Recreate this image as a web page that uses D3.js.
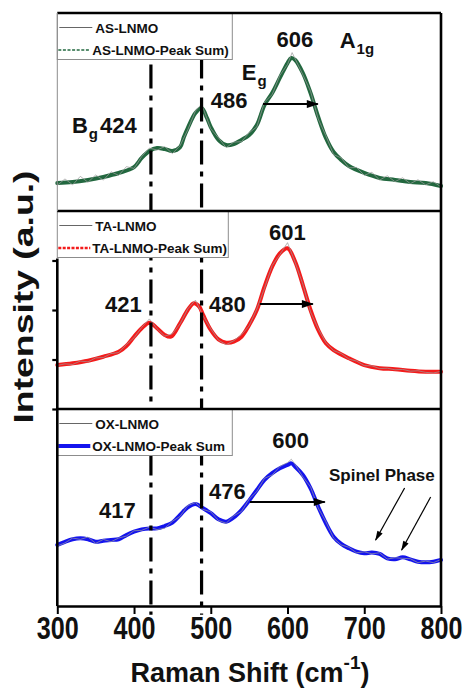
<!DOCTYPE html>
<html>
<head>
<meta charset="utf-8">
<script src="https://cdn.jsdelivr.net/npm/d3@7"></script>
<style>
  html, body { margin: 0; padding: 0; background: #fff; }
  svg text { font-family: "Liberation Sans", Arial, sans-serif; font-weight: bold; fill: #111; }
</style>
</head>
<body>
<div id="chart"></div>
<script>
const X_TICKS = [300, 400, 500, 600, 700, 800];

// AS-LNMO (top panel)
const fitX_AS = [300,320,340,360,380,400,410,420,430,440,450,460,465,470,480,488,495,500,510,520,530,540,550,560,570,580,590,600,605,610,620,630,640,650,660,670,680,700,720,740,760,780,800];
const fit_AS  = [14.1,14.6,15.7,17.2,19.2,22.2,26.8,30.3,31.8,31.3,30.3,32.3,37.4,41.9,49.5,52.0,47.0,42.4,35.9,33.3,33.8,35.9,38.4,43.4,53.5,59.6,67.2,74.7,77.3,76.3,69.7,59.6,47.5,36.9,29.8,25.8,22.7,19.2,16.7,15.7,14.6,14.1,12.6];
const rawX_AS = [300,310,320,330,340,350,360,370,380,390,400,410,420,430,440,450,460,470,480,488,500,510,520,530,540,550,560,570,580,590,600,606,620,630,640,650,660,670,680,690,700,710,720,730,740,750,760,770,780,790,800];
const raw_AS  = [13.0,16.2,13.2,17.5,14.5,18.2,15.6,19.8,18.0,22.4,21.5,27.5,31.8,30.8,32.5,29.0,33.0,41.0,50.5,54.0,41.5,37.0,32.0,34.8,35.0,39.5,42.5,55.0,58.8,68.5,74.0,80.0,68.8,60.5,46.5,38.0,28.5,26.8,21.8,22.0,18.0,19.6,15.6,17.8,14.8,16.8,13.8,15.8,13.2,14.8,12.2];

// TA-LNMO (middle panel)
const fitX_TA = [300,320,340,360,380,390,400,410,420,430,440,448,460,470,478,485,490,500,510,520,530,540,550,560,570,580,590,600,610,620,630,640,650,660,680,700,720,740,760,780,800];
const fit_TA  = [22.2,23.1,24.4,26.4,28.9,31.8,36.5,40.8,43.6,40.8,37.4,36.5,43.3,50.0,53.4,51.7,47.5,39.9,35.2,33.5,34.0,36.5,42.4,50.0,61.8,71.9,78.6,81.2,74.4,62.6,50.0,39.9,33.2,29.8,25.6,22.2,20.6,20.1,19.3,18.8,18.8];
const rawX_TA = [300,310,320,330,340,350,360,370,380,390,400,410,420,430,440,450,460,470,480,490,500,510,520,530,540,550,560,570,580,590,600,610,620,630,640,650,660,670,680,690,700,710,720,730,740,750,760,770,780,790,800];
const raw_TA  = [22.0,22.8,22.5,24.2,23.8,25.8,26.0,28.0,28.5,32.5,36.0,41.2,45.5,40.5,36.8,38.0,43.0,50.5,55.0,47.0,40.5,34.8,32.5,34.5,37.5,42.0,50.5,61.0,72.5,78.0,84.0,74.0,63.0,49.0,40.5,33.5,29.5,28.0,25.2,24.2,21.9,21.8,20.4,20.6,19.8,20.0,19.1,19.3,18.5,18.2,19.0];

// OX-LNMO (bottom panel)
const fitX_OX = [300,310,320,330,340,350,360,370,380,390,400,410,420,430,440,450,460,470,480,490,500,510,520,530,540,550,560,570,580,590,600,605,610,620,630,640,650,660,670,680,690,700,710,720,730,740,750,760,770,780,790,800];
const fit_OX  = [31.0,32.6,33.9,34.4,33.9,32.6,33.1,33.5,33.9,36.0,37.7,38.9,39.4,39.4,40.6,42.3,46.2,50.1,51.8,49.6,47.1,44.0,42.8,45.0,48.7,53.5,58.9,64.0,67.4,69.9,71.6,72.4,70.7,66.5,59.7,50.4,42.0,35.2,31.5,29.3,27.6,26.8,27.1,26.4,24.2,23.7,24.7,23.7,22.5,22.2,22.5,23.4];
const raw_OX  = [30.5,32.0,34.5,33.8,35.0,31.8,33.8,32.6,34.5,35.5,38.2,38.4,40.0,38.8,39.5,43.0,45.5,51.0,52.5,49.0,47.8,43.4,42.0,45.8,48.0,54.2,58.2,64.8,66.5,70.8,72.8,74.5,71.8,65.5,60.5,49.8,42.8,34.5,31.0,29.8,27.0,27.5,26.5,27.0,23.8,24.5,24.2,24.0,22.0,22.8,22.0,23.6];

// peak labels: [text, x (cm-1), y (intensity), anchor]
const labels_AS = [['606', 609.5, 82.8, 'middle'], ['486', 500, 52.0, 'start'], ['424', 355.6, 39.4, 'start']];
const labels_TA = [['601', 599.7, 85.4, 'middle'], ['421', 386, 49.0, 'middle'], ['480', 521.6, 49.0, 'middle']];
const labels_OX = [['600', 604, 80.2, 'middle'], ['476', 521.6, 54.3, 'middle'], ['417', 378.4, 44.7, 'middle'], ['Spinel Phase', 654, 63.5, 'start']];
// mode symbols: [main, sub, x, y]
const modes_AS = [['A', '1g', 668, 82.3], ['E', 'g', 540.5, 66.2], ['B', 'g', 319, 39.4]];
// arrows: [x0, y0, x1, y1]
const arrows_AS = [[568, 54.0, 639.5, 54.0]];
const arrows_TA = [[564, 53.0, 633, 53.0]];
const arrows_OX = [[551, 52.8, 648.6, 52.8]];
const spinel_OX = [[752.6, 59.9, 714.8, 33.5], [786.5, 55.3, 748.7, 28.4]];
const markLines = [422, 488];

const W = 465, H = 691;
const svg = d3.select('#chart').append('svg').attr('width', W).attr('height', H);
svg.append('rect').attr('width', W).attr('height', H).attr('fill', '#fff');

const defs = svg.append('defs');
defs.append('marker').attr('id', 'headBig')
    .attr('markerUnits', 'userSpaceOnUse').attr('viewBox', '0 0 12 8')
    .attr('markerWidth', 13).attr('markerHeight', 8).attr('refX', 11).attr('refY', 4).attr('orient', 'auto')
  .append('path').attr('d', 'M0,0 L12,4 L0,8 Z').attr('fill', '#000');
defs.append('marker').attr('id', 'headThin')
    .attr('markerUnits', 'userSpaceOnUse').attr('viewBox', '0 0 10 6')
    .attr('markerWidth', 11).attr('markerHeight', 6).attr('refX', 9).attr('refY', 3).attr('orient', 'auto')
  .append('path').attr('d', 'M0,0 L10,3 L0,6 Z').attr('fill', '#000');

const x = d3.scaleLinear().domain([300, 800]).range([57.3, 441]);

const panels = [
  {top: 13, bottom: 211, color: '#22683f', fitX: fitX_AS, fit: fit_AS, rawX: rawX_AS, raw: raw_AS,
   labels: labels_AS, modes: modes_AS, arrows: arrows_AS, thin: [],
   legend: ['AS-LNMO', 'AS-LNMO-Peak Sum)'], legW: 175, legDash: '3,1.6', legStroke: 1.6},
  {top: 211, bottom: 409, color: '#f31b1b', fitX: fitX_TA, fit: fit_TA, rawX: rawX_TA, raw: raw_TA,
   labels: labels_TA, modes: [], arrows: arrows_TA, thin: [],
   legend: ['TA-LNMO', 'TA-LNMO-Peak Sum)'], legW: 171, legDash: '3,1.4', legStroke: 2.4},
  {top: 409, bottom: 606, color: '#1414ee', fitX: fitX_OX, fit: fit_OX, rawX: fitX_OX, raw: raw_OX,
   labels: labels_OX, modes: [], arrows: arrows_OX, thin: spinel_OX,
   legend: ['OX-LNMO', 'OX-LNMO-Peak Sum'], legW: 175, legDash: null, legStroke: 4}
];
panels.forEach(p => { p.y = d3.scaleLinear().domain([0, 100]).range([p.bottom, p.top]); });

const gPlot = svg.append('g');

panels.forEach(p => {
  const g = gPlot.append('g');

  g.append('path')
    .attr('d', d3.line().x(d => x(d[0])).y(d => p.y(d[1])).curve(d3.curveCatmullRom)(d3.zip(p.fitX, p.fit)))
    .attr('fill', 'none').attr('stroke', p.color).attr('stroke-width', 4)
    .attr('stroke-linejoin', 'round').attr('stroke-linecap', 'round');

  // measured spectrum drawn thin over the fitted sum
  g.append('path')
    .attr('d', d3.line().x(d => x(d[0])).y(d => p.y(d[1]))(d3.zip(p.rawX, p.raw)))
    .attr('fill', 'none').attr('stroke', '#9a9a9a').attr('stroke-width', 0.8)
    .attr('stroke-opacity', 0.9);
});

// dash-dot marker lines across all panels
const lineTops = [74, 79];
markLines.forEach((m, i) => {
  svg.append('line')
    .attr('x1', x(m)).attr('x2', x(m))
    .attr('y1', panels[0].y(lineTops[i])).attr('y2', panels[2].y(-4.5))
    .attr('stroke', '#000').attr('stroke-width', 3.2)
    .attr('stroke-dasharray', '24,7,5,7');
});

// legends, labels, arrows
panels.forEach(p => {
  const g = svg.append('g');
  const leg = g.append('g').attr('transform', `translate(${x(300)},${p.top})`);
  leg.append('rect').attr('x', 0).attr('y', 0.5).attr('width', p.legW).attr('height', 46)
    .attr('fill', '#fff').attr('stroke', '#8c8c8c').attr('stroke-width', 1);
  leg.append('line').attr('x1', 2).attr('x2', 35).attr('y1', 14.5).attr('y2', 14.5)
    .attr('stroke', '#666').attr('stroke-width', 1);
  leg.append('text').attr('x', 38).attr('y', 19.5).attr('font-size', 13.5).text(p.legend[0]);
  leg.append('line').attr('x1', 1).attr('x2', 33).attr('y1', 37).attr('y2', 37)
    .attr('stroke', p.color).attr('stroke-width', p.legStroke)
    .attr('stroke-dasharray', p.legDash);
  leg.append('text').attr('x', 35).attr('y', 41.5).attr('font-size', 13.5).text(p.legend[1]);

  p.labels.forEach(l => {
    g.append('text').attr('x', x(l[1])).attr('y', p.y(l[2]))
      .attr('text-anchor', l[3])
      .attr('font-size', l[0].length > 4 ? 17 : 22).text(l[0]);
  });
  p.modes.forEach(m => {
    const t = g.append('text').attr('x', x(m[2])).attr('y', p.y(m[3])).attr('font-size', 22);
    t.append('tspan').text(m[0]);
    t.append('tspan').attr('dx', 1).attr('dy', 6).attr('font-size', 15).text(m[1]);
  });
  p.arrows.forEach(a => {
    g.append('line').attr('x1', x(a[0])).attr('y1', p.y(a[1])).attr('x2', x(a[2])).attr('y2', p.y(a[3]))
      .attr('stroke', '#000').attr('stroke-width', 2).attr('marker-end', 'url(#headBig)');
  });
  p.thin.forEach(a => {
    g.append('line').attr('x1', x(a[0])).attr('y1', p.y(a[1])).attr('x2', x(a[2])).attr('y2', p.y(a[3]))
      .attr('stroke', '#000').attr('stroke-width', 1.2).attr('marker-end', 'url(#headThin)');
  });
});

// frame
const frame = svg.append('g').attr('stroke', '#000').attr('stroke-width', 2.6).attr('fill', 'none');
frame.append('line').attr('x1', x(300)).attr('x2', x(800)).attr('y1', panels[0].top).attr('y2', panels[0].top);
frame.append('line').attr('x1', x(800)).attr('x2', x(800)).attr('y1', panels[0].top).attr('y2', panels[2].bottom);
frame.append('line').attr('x1', x(300)).attr('x2', x(800)).attr('y1', panels[1].top).attr('y2', panels[1].top);
frame.append('line').attr('x1', x(300)).attr('x2', x(800)).attr('y1', panels[2].top).attr('y2', panels[2].top);
svg.append('line').attr('x1', x(300)).attr('x2', x(300)).attr('y1', panels[0].top).attr('y2', panels[0].bottom)
  .attr('stroke', '#8c8c8c').attr('stroke-width', 1);
frame.append('line').attr('x1', x(300)).attr('x2', x(300)).attr('y1', panels[1].y(76)).attr('y2', panels[2].bottom);

// middle panel y ticks
const yAxis = svg.append('g').attr('transform', `translate(${x(300)},0)`)
  .call(d3.axisLeft(panels[1].y).tickValues([0, 25, 50, 75]).tickSize(5).tickFormat(''));
yAxis.select('.domain').remove();
yAxis.selectAll('line').attr('stroke', '#000').attr('stroke-width', 2.2);

// x axis
const xAxis = svg.append('g').attr('transform', `translate(0,${panels[2].bottom})`)
  .call(d3.axisBottom(x).tickValues(X_TICKS).tickSize(8).tickSizeOuter(0).tickFormat(d3.format('d')));
xAxis.select('.domain').attr('stroke', '#000').attr('stroke-width', 2.6);
xAxis.selectAll('line').attr('stroke', '#000').attr('stroke-width', 2);
xAxis.selectAll('text')
  .attr('font-family', '"Liberation Sans", Arial, sans-serif').attr('font-weight', 'bold')
  .attr('font-size', 31).attr('fill', '#111')
  .attr('textLength', 42).attr('lengthAdjust', 'spacingAndGlyphs');

// axis titles
const xt = svg.append('text').attr('x', 250).attr('y', 682).attr('text-anchor', 'middle').attr('font-size', 27);
xt.append('tspan').text('Raman Shift (cm');
xt.append('tspan').attr('dy', -13).attr('font-size', 19).text('-1');
xt.append('tspan').attr('dy', 13).text(')');

svg.append('text')
  .attr('transform', 'translate(33,297) rotate(-90)')
  .attr('text-anchor', 'middle').attr('font-size', 28)
  .attr('textLength', 253).attr('lengthAdjust', 'spacingAndGlyphs')
  .text('Intensity (a.u.)');
</script>
</body>
</html>
